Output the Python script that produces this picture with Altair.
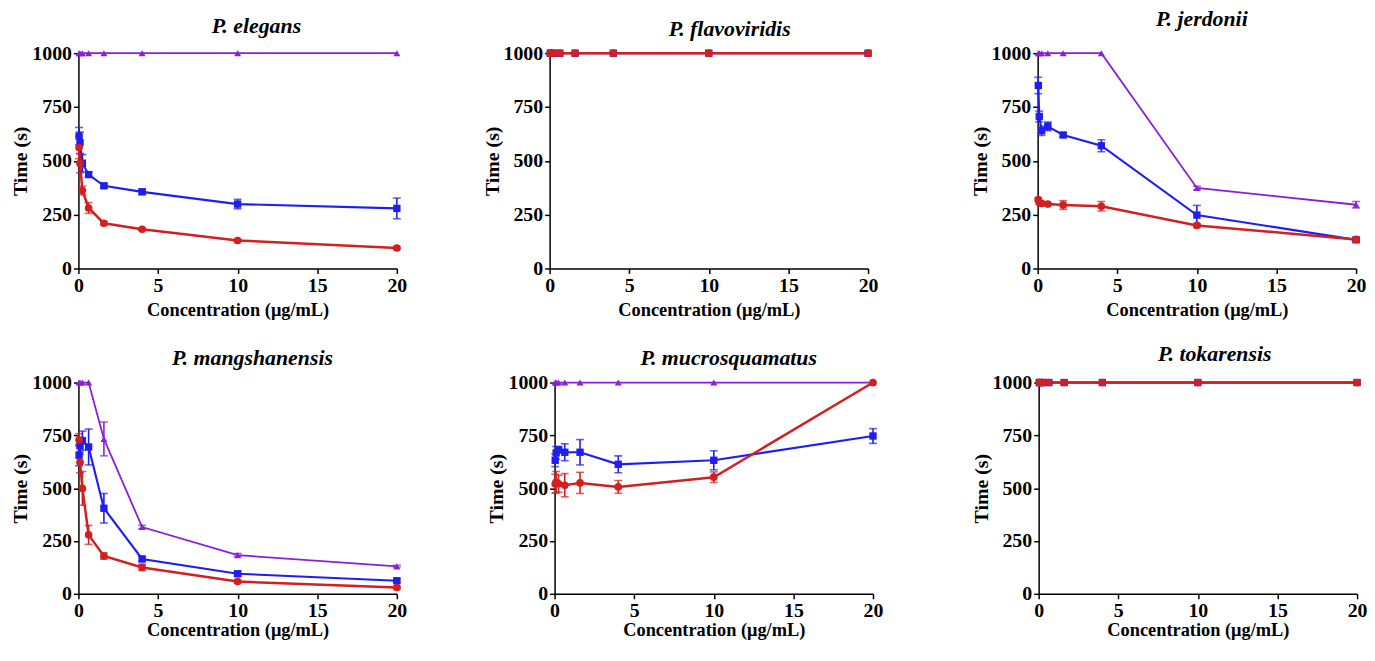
import altair as alt
import pandas as pd

X = [0.04, 0.1, 0.25, 0.64, 1.6, 4, 10, 20]

PANELS = ["P. elegans", "P. flavoviridis", "P. jerdonii",
          "P. mangshanensis", "P. mucrosquamatus", "P. tokarensis"]

# values per panel: purple (triangle), blue (square), red (circle)
elegans_purple = [1000, 1000, 1000, 1000, 1000, 1000, 1000, 1000]
elegans_purple_err = [0, 0, 0, 0, 0, 0, 0, 0]
elegans_blue = [615, 584, 489, 436, 384, 356, 299, 279]
elegans_blue_err = [40, 50, 40, 12, 10, 12, 22, 48]
elegans_red = [562, 488, 362, 281, 210, 182, 130, 95]
elegans_red_err = [52, 44, 20, 25, 8, 5, 5, 5]

flavo_purple = [1000, 1000, 1000, 1000, 1000, 1000, 1000, 1000]
flavo_purple_err = [0, 0, 0, 0, 0, 0, 0, 0]
flavo_blue = [1000, 1000, 1000, 1000, 1000, 1000, 1000, 1000]
flavo_blue_err = [0, 0, 0, 0, 0, 0, 0, 0]
flavo_red = [1000, 1000, 1000, 1000, 1000, 1000, 1000, 1000]
flavo_red_err = [0, 0, 0, 0, 0, 0, 0, 0]

jerd_purple = [1000, 1000, 1000, 1000, 1000, 1000, 374, 296]
jerd_purple_err = [0, 0, 0, 0, 0, 0, 8, 15]
jerd_blue = [850, 706, 640, 660, 620, 570, 248, 133]
jerd_blue_err = [38, 25, 22, 20, 10, 28, 45, 8]
jerd_red = [320, 306, 302, 299, 295, 289, 200, 135]
jerd_red_err = [8, 5, 5, 5, 20, 22, 8, 6]

mang_purple = [1000, 1000, 1000, 1000, 733, 316, 183, 130]
mang_purple_err = [0, 0, 0, 0, 80, 8, 8, 5]
mang_blue = [656, 700, 725, 695, 405, 165, 95, 62]
mang_blue_err = [50, 40, 45, 85, 70, 12, 10, 8]
mang_red = [728, 623, 499, 279, 179, 125, 58, 30]
mang_red_err = [30, 50, 80, 45, 15, 15, 6, 6]

mucro_purple = [1000, 1000, 1000, 1000, 1000, 1000, 1000, 1000]
mucro_purple_err = [0, 0, 0, 0, 0, 0, 0, 0]
mucro_blue = [632, 667, 682, 670, 670, 613, 632, 747]
mucro_blue_err = [30, 30, 15, 40, 60, 40, 45, 35]
mucro_red = [521, 529, 521, 514, 525, 506, 552, 1000]
mucro_red_err = [45, 50, 40, 55, 50, 30, 25, 0]

toka_purple = [1000, 1000, 1000, 1000, 1000, 1000, 1000, 1000]
toka_purple_err = [0, 0, 0, 0, 0, 0, 0, 0]
toka_blue = [1000, 1000, 1000, 1000, 1000, 1000, 1000, 1000]
toka_blue_err = [0, 0, 0, 0, 0, 0, 0, 0]
toka_red = [1000, 1000, 1000, 1000, 1000, 1000, 1000, 1000]
toka_red_err = [0, 0, 0, 0, 0, 0, 0, 0]

SERIES = ["a_purple", "b_blue", "c_red"]
COLORS = ["#8A1FDA", "#1E1EF2", "#D21F1F"]
SHAPES = ["triangle-up", "square", "circle"]

DATA = {
    "P. elegans": [(elegans_purple, elegans_purple_err), (elegans_blue, elegans_blue_err), (elegans_red, elegans_red_err)],
    "P. flavoviridis": [(flavo_purple, flavo_purple_err), (flavo_blue, flavo_blue_err), (flavo_red, flavo_red_err)],
    "P. jerdonii": [(jerd_purple, jerd_purple_err), (jerd_blue, jerd_blue_err), (jerd_red, jerd_red_err)],
    "P. mangshanensis": [(mang_purple, mang_purple_err), (mang_blue, mang_blue_err), (mang_red, mang_red_err)],
    "P. mucrosquamatus": [(mucro_purple, mucro_purple_err), (mucro_blue, mucro_blue_err), (mucro_red, mucro_red_err)],
    "P. tokarensis": [(toka_purple, toka_purple_err), (toka_blue, toka_blue_err), (toka_red, toka_red_err)],
}

rows = []
for p in PANELS:
    for s, (ys, es) in zip(SERIES, DATA[p]):
        for x, y, e in zip(X, ys, es):
            rows.append({"panel": p, "series": s, "x": x, "y": y, "lo": y - e, "hi": y + e, "err": e})
df = pd.DataFrame(rows)

W = 321
FONT = "'Liberation Serif', 'Times New Roman', Times, serif"
YT = "Time (s)"


def panel(name, dx, offset, xtp, h):
    d = df[df.panel == name]
    base = alt.Chart(d)
    xenc = alt.X("x:Q", scale=alt.Scale(domain=[0, 20]),
                 axis=alt.Axis(values=[0, 5, 10, 15, 20], title="Concentration (μg/mL)",
                               labelFlush=False, titlePadding=xtp, titleFontSize=18.5))
    yenc = alt.Y("y:Q", scale=alt.Scale(domain=[0, 1000]), title=YT,
                 axis=alt.Axis(values=[0, 250, 500, 750, 1000], format="d", titlePadding=1, titleFontSize=20))
    color = alt.Color("series:N", scale=alt.Scale(domain=SERIES, range=COLORS), legend=None)
    lines = base.mark_line().encode(
        x=xenc, y=yenc, color=color, order="x:Q",
        strokeWidth=alt.StrokeWidth("series:N", scale=alt.Scale(domain=SERIES, range=[1.8, 2.5, 2.5]), legend=None),
    )
    errs = base.transform_filter("datum.err > 0").mark_errorbar(ticks=True, size=8, thickness=1.6).encode(
        x="x:Q", y=alt.Y("lo:Q", title=YT), y2="hi:Q", color=color)
    pts = base.mark_point(filled=True, opacity=1).encode(
        x="x:Q", y=alt.Y("y:Q", title=YT), color=color,
        shape=alt.Shape("series:N", scale=alt.Scale(domain=SERIES, range=SHAPES), legend=None),
        size=alt.Size("series:N", scale=alt.Scale(domain=SERIES, range=[50, 60, 55]), legend=None),
    )
    return alt.layer(lines, errs, pts).properties(
        width=W, height=h,
        title=alt.TitleParams(text=name, dx=dx, offset=offset, anchor="middle"),
    )


p1 = panel("P. elegans", 19, 5, 5, 217)
p2 = panel("P. flavoviridis", 21, 2, 5, 217)
p3 = panel("P. jerdonii", 5, 12, 5, 217)
p4 = panel("P. mangshanensis", 15, 2.5, 0, 213)
p5 = panel("P. mucrosquamatus", 15, 2.5, 0, 213)
p6 = panel("P. tokarensis", 17, 6.5, 0, 213)

row1 = alt.hconcat(alt.hconcat(p1, p2, spacing=76), p3, spacing=93)
row2 = alt.hconcat(alt.hconcat(p4, p5, spacing=81), p6, spacing=89)

chart = alt.vconcat(row1, row2, spacing=24).properties(
    padding={"left": 3, "top": -2, "right": 0, "bottom": 0}
).configure_axis(
    labelFont=FONT, labelFontSize=20, labelFontWeight="bold", labelColor="black",
    titleFont=FONT, titleFontSize=18, titleFontWeight="bold", titleColor="black",
    domainColor="black", domainWidth=1.5, tickColor="black", tickWidth=1.5, tickSize=5,
    grid=False, labelPadding=2,
).configure_view(stroke=None).configure_title(
    font=FONT, fontSize=22, fontStyle="italic", fontWeight="bold", color="black",
)

chart.save("out.html", embed_options={"renderer": "svg", "actions": False})
